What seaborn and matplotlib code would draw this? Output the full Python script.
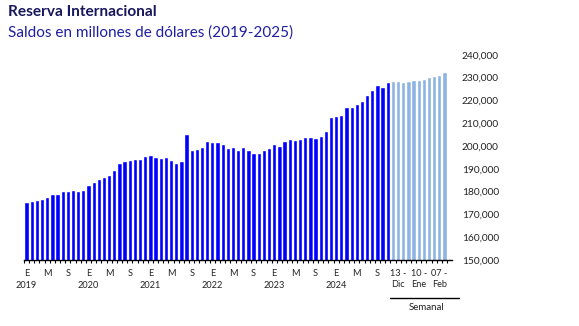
import matplotlib
matplotlib.use("Agg")
import matplotlib.pyplot as plt
import seaborn as sns
import pandas as pd
import numpy as np

# ---- data (millones de dólares) ----
monthly_values = [
    175400, 175700, 176300, 176700, 177600, 178900, 178900, 180200, 180200, 180700, 180400, 180700,  # 2019
    182900, 184200, 185500, 186500, 187300, 189500, 192500, 193400, 193800, 194300, 194300, 195600,  # 2020
    196000, 195200, 194700, 195200, 193800, 192500, 193400, 205200, 198200, 198700, 199500, 202200,  # 2021
    201700, 201700, 200900, 199100, 199500, 198200, 199500, 198200, 196900, 196900, 198200, 199100,  # 2022
    200900, 200000, 202200, 203000, 202600, 203000, 203900, 203900, 203500, 204400, 206600, 212700,  # 2023
    213100, 213600, 217100, 217100, 218400, 219700, 222300, 224500, 226700, 225800, 228000,          # 2024 (Ene-Nov)
]
weekly_values = [228500, 228500, 228000, 228500, 228900, 228900, 229300, 230200, 230700, 231100, 232400]

month_tick_labels = ["E", "M", "S"]
year_labels = ["2019", "2020", "2021", "2022", "2023", "2024"]
weekly_tick_labels = ["13 -\nDic", "10 -\nEne", "07 -\nFeb"]
y_ticks = [150000, 160000, 170000, 180000, 190000, 200000, 210000, 220000, 230000, 240000]

dark_blue = "#0000FF"
light_blue = "#8DB4E2"
text_col = "#222222"

n_m = len(monthly_values)
n_w = len(weekly_values)
df = pd.DataFrame({
    "pos": list(range(n_m + n_w)),
    "valor": monthly_values + weekly_values,
    "serie": ["Mensual"] * n_m + ["Semanal"] * n_w,
})

sns.set_theme(style="white")
plt.rcParams["font.family"] = ["Lato", "DejaVu Sans"]

fig = plt.figure(figsize=(5.79, 3.26), dpi=100)
ax_h = 260 - 54.7
ax = fig.add_axes([24 / 579, 1 - 260 / 326, (452 - 24) / 579, ax_h / 326])

sns.barplot(data=df, x="pos", y="valor", hue="serie", dodge=False,
            palette={"Mensual": dark_blue, "Semanal": light_blue},
            width=0.83, legend=False, ax=ax, saturation=1)

ax.set_xlim(-0.5, 82.45)
ax.set_ylim(150000, 240000)
ax.set_xlabel("")
ax.set_ylabel("")

# y axis on right, no spine, no ticks
ax.yaxis.tick_right()
ax.set_yticks(y_ticks)
ax.set_yticklabels([f"{v:,}" for v in y_ticks], fontsize=7.3, color=text_col)
ax.tick_params(axis="y", length=0, pad=7.2)
for s in ["left", "right", "top"]:
    ax.spines[s].set_visible(False)
ax.spines["bottom"].set_color("black")
ax.spines["bottom"].set_linewidth(1.0)

# x ticks: marks at bar boundaries, labels as text
ax.set_xticks(np.arange(-0.5, n_m + n_w + 0.5, 1.0))
ax.set_xticklabels([])
ax.tick_params(axis="x", direction="out", length=2.5, width=0.8, color="black", bottom=True)

xfs = 6.6
trans = ax.get_xaxis_transform()
for i in range(0, n_m, 4):
    ax.text(i, -13.5 / ax_h, month_tick_labels[(i // 4) % 3], transform=trans,
            ha="center", va="center", fontsize=xfs, color=text_col)
for j, yl in enumerate(year_labels):
    ax.text(j * 12, -25 / ax_h, yl, transform=trans, ha="center", va="center",
            fontsize=xfs, color=text_col)
for k, wl in enumerate(weekly_tick_labels):
    ax.text(n_m + 1 + 4 * k, -19.2 / ax_h, wl, transform=trans, ha="center", va="center",
            fontsize=xfs, color=text_col, linespacing=1.35)

# Semanal bracket
fig.add_artist(plt.Line2D([390 / 579, 459 / 579], [1 - 297.7 / 326] * 2,
                          color="black", lw=1.0))
fig.text(426.7 / 579, 1 - 308 / 326, "Semanal", ha="center", va="center",
         fontsize=7, color=text_col)

# titles
fig.text(8 / 579, 1 - 12 / 326, "Reserva Internacional", ha="left", va="center",
         fontsize=11.1, fontweight="bold", color="#17175E")
fig.text(8 / 579, 1 - 33 / 326, "Saldos en millones de dólares (2019-2025)", ha="left",
         va="center", fontsize=11, color="#1E1EA0")

fig.savefig("out.png", dpi=100)
